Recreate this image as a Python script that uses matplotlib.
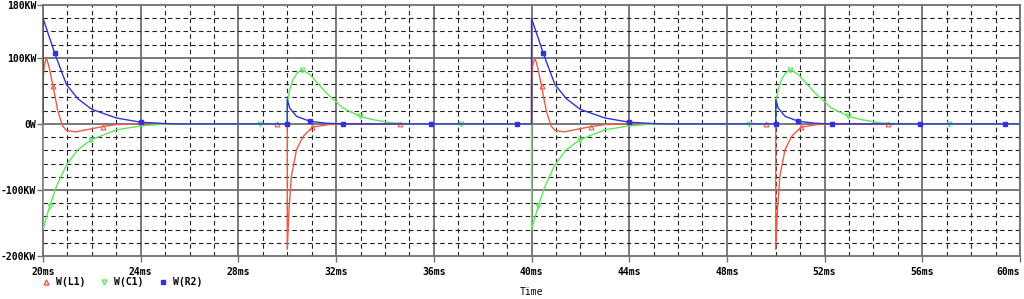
import matplotlib
matplotlib.use("Agg")
import matplotlib.pyplot as plt
from matplotlib.lines import Line2D
import numpy as np

# one 20 ms period (time in ms, power in KW)
t_l1 = [20.0, 20.0, 20.05, 20.14, 20.25, 20.41, 20.61, 20.8, 20.96, 21.33, 21.9,
        22.45, 23.0, 23.6, 24.5, 26.5, 29.6, 30.0, 30.0, 30.07, 30.17, 30.38,
        30.65, 31.03, 31.7, 32.3, 34.6, 36.0, 40.0]
w_l1 = [0, 65, 88, 100, 86, 57, 19, -3, -10, -12, -8,
        -4, -1, -0.3, 0, 0, 0, 0, -190, -130, -79, -39,
        -19, -5, -1, 0, 0, 0, 0]

t_c1 = [20.0, 20.0, 20.27, 20.55, 20.96, 21.43, 21.98, 23.0, 24.0, 24.9, 25.5,
        28.9, 30.0, 30.0, 30.1, 30.24, 30.4, 30.6, 30.92, 31.6, 32.28, 32.97,
        33.5, 34.3, 35.0, 37.1, 40.0]
w_c1 = [0, -160, -125, -94.5, -62, -39, -24, -9, -3, -0.5, 0,
        0, 0, 30, 52, 67, 77, 82, 75, 47, 24, 11.5,
        6.5, 1.5, 0.3, 0, 0]

t_r2 = [20.0, 20.0, 20.48, 20.96, 21.43, 22.0, 23.0, 24.0, 25.0, 25.5, 26.5,
        27.5, 30.0, 30.0, 30.1, 30.38, 30.92, 31.6, 32.3, 35.9, 39.4, 40.0]
w_r2 = [0, 160, 107, 59.5, 38, 22, 9, 2.5, 0.5, 0, 0,
        0, 0, 37, 24, 11.5, 4, 1, 0, 0, 0, 0]

period = 20.0

x_ticks = [20, 24, 28, 32, 36, 40, 44, 48, 52, 56, 60]
x_labels = ["20ms", "24ms", "28ms", "32ms", "36ms", "40ms", "44ms",
            "48ms", "52ms", "56ms", "60ms"]
y_ticks = [-200, -100, 0, 100, 180]
y_labels = ["-200KW", "-100KW", "0W", "100KW", "180KW"]

red = "#f05a46"
green = "#5fe65f"
blue = "#3232dc"

mark_l1 = [5, 11, 16, 23, 26]
mark_c1 = [2, 6, 11, 17, 21, 25]
mark_r2 = [2, 7, 12, 16, 18, 19, 20]


def two_periods(t, w):
    t = np.array(t)
    return np.concatenate([t, t + period]), np.concatenate([w, w])


def marks2(idx, n):
    return idx + [i + n for i in idx]


plt.rcParams["font.family"] = "DejaVu Sans Mono"
plt.rcParams["font.weight"] = "bold"
plt.rcParams["font.size"] = 7

fig = plt.figure(figsize=(10.24, 2.99), dpi=100)
ax = fig.add_axes([43 / 1024, 1 - 256 / 299, 977 / 1024, 251 / 299])

ax.set_xlim(20, 60)
ax.set_ylim(-200, 180)
ax.set_xticks(x_ticks)
ax.set_xticklabels(x_labels)
ax.get_xticklabels()[-1].set_horizontalalignment("right")
ax.set_yticks(y_ticks)
ax.set_yticklabels(y_labels)
ax.set_xticks(np.arange(20, 61, 1), minor=True)
ax.set_yticks(np.arange(-200, 181, 20), minor=True)
ax.tick_params(which="major", direction="out", length=4, width=1, color="#707070")
ax.tick_params(axis="y", which="major", pad=1)
ax.tick_params(axis="x", which="major", pad=4)
ax.tick_params(which="minor", length=0)
ax.grid(which="minor", color="#202020", linestyle=(0, (4, 3)), linewidth=0.8)
ax.grid(which="major", axis="x", color="#707070", linestyle="-", linewidth=1.3)
for y in [-100, 0, 100]:
    ax.axhline(y, color="#707070", linewidth=1.3, zorder=1)
for s in ax.spines.values():
    s.set_color("#707070")
    s.set_linewidth(1.3)
ax.set_axisbelow(True)

tl, wl = two_periods(t_l1, w_l1)
tc, wc = two_periods(t_c1, w_c1)
tr, wr = two_periods(t_r2, w_r2)

ax.plot(tl, wl, color=red, linewidth=1, marker="^", markersize=3.5, fillstyle="none",
        markeredgewidth=0.8, markevery=marks2(mark_l1, len(t_l1)), zorder=3)
ax.plot(tc, wc, color=green, linewidth=1, marker="v", markersize=3.5, fillstyle="none",
        markeredgewidth=0.8, markevery=marks2(mark_c1, len(t_c1)), zorder=4)
ax.plot(tr, wr, color=blue, linewidth=1, marker="s", markersize=2.2,
        markevery=marks2(mark_r2, len(t_r2)), zorder=5)

ax.set_xlabel("Time")
ax.xaxis.set_label_coords(0.5, -0.125)

handles = [
    Line2D([], [], color=red, marker="^", linestyle="none", markersize=3.5, fillstyle="none"),
    Line2D([], [], color=green, marker="v", linestyle="none", markersize=3.5, fillstyle="none"),
    Line2D([], [], color=blue, marker="s", linestyle="none", markersize=2.2),
]
fig.legend(handles, ["W(L1)", "W(C1)", "W(R2)"], loc="lower left",
           bbox_to_anchor=(42 / 1024, 12 / 299), ncol=3, frameon=False,
           handlelength=0.8, handletextpad=0.6, columnspacing=1.6,
           borderpad=0, borderaxespad=0)

fig.savefig("out.png", dpi=100)
